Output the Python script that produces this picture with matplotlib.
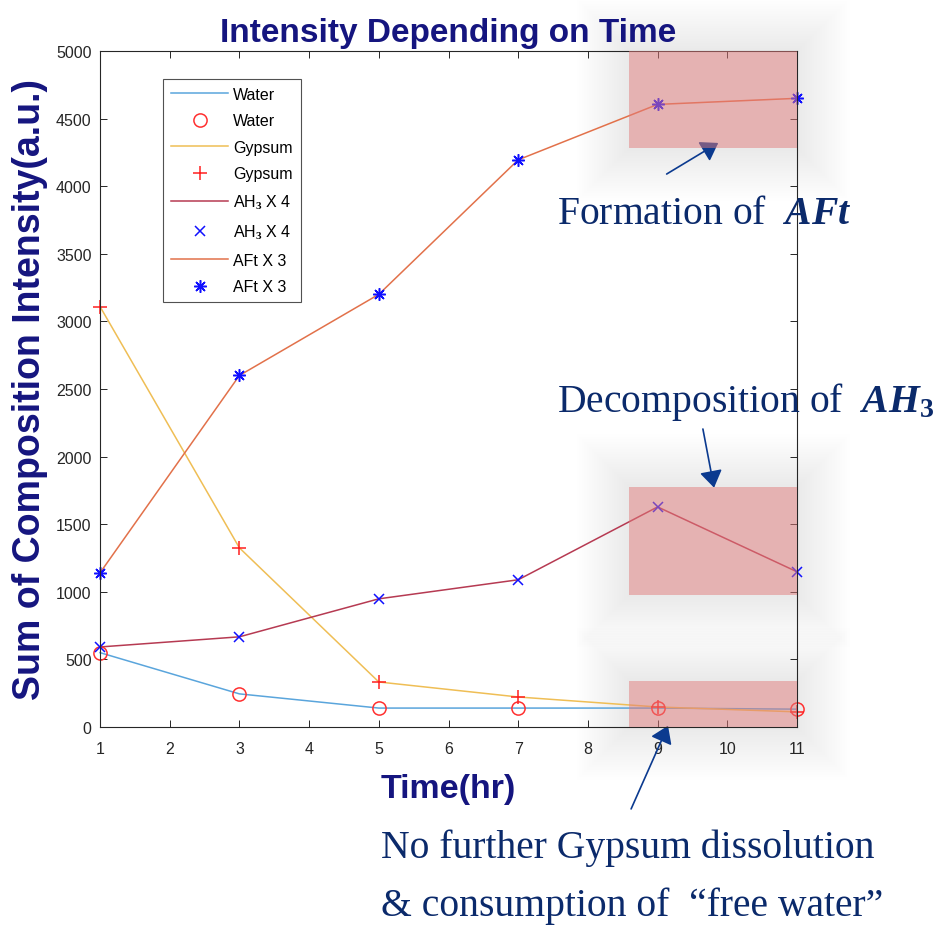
import matplotlib
matplotlib.use("Agg")
import matplotlib.pyplot as plt
from matplotlib.patches import Rectangle, FancyArrowPatch

plt.rcParams['font.family'] = ['Liberation Sans', 'DejaVu Sans']
plt.rcParams['mathtext.fontset'] = 'custom'
plt.rcParams['mathtext.it'] = 'Liberation Serif:italic:bold'
plt.rcParams['mathtext.rm'] = 'Liberation Serif:bold'

time_hr = [1, 3, 5, 7, 9, 11]
water = [550, 245, 140, 140, 140, 132]
gypsum = [3110, 1325, 333, 222, 148, 112]
ah3_x4 = [592, 667, 948, 1089, 1628, 1148]
aft_x3 = [1140, 2600, 3200, 4195, 4605, 4650]

series_labels = ['Water', 'Gypsum', 'AH$_3$ X 4', 'AFt X 3']
line_colors = ['#5aa5dc', '#efbe55', '#b63a52', '#e2714a']
marker_colors = ['#ff3030', '#ff2020', '#1010ff', '#1010ff']
markers = ['o', '+', 'x', (8, 2, 0)]
marker_sizes = [9.5, 10, 6.5, 9]

xticks = list(range(1, 12))
yticks = list(range(0, 5001, 500))

# highlight boxes: (x0, x1, y0, y1) in data units
boxes = [(8.59, 11.0, 4280, 5000), (8.59, 11.0, 978, 1778), (8.59, 11.0, 0, 341)]

W, H = 935, 929
fig = plt.figure(figsize=(W / 100, H / 100), dpi=100)
ax = fig.add_axes([100 / W, 1 - 728 / H, 697 / W, 676 / H])

for vals, lab, lc, mc, mk, ms in zip([water, gypsum, ah3_x4, aft_x3], series_labels,
                                     line_colors, marker_colors, markers, marker_sizes):
    ax.plot(time_hr, vals, color=lc, lw=1.1, label=lab, zorder=2, clip_on=False)
    face = 'none' if mk == 'o' else mc
    ax.plot(time_hr, vals, linestyle='none', marker=mk, markersize=ms, markeredgecolor=mc,
            markerfacecolor=face, markeredgewidth=1.1, label=lab, zorder=2.2, clip_on=False)

ax.set_xlim(1, 11)
ax.set_ylim(0, 5000)
ax.set_xticks(xticks)
ax.set_yticks(yticks)
ax.tick_params(direction='in', top=True, right=True, length=5, width=0.7,
               labelsize=11.5, colors='#262626')
ax.tick_params(axis='x', pad=10)
ax.tick_params(axis='y', pad=6)
for s in ax.spines.values():
    s.set_color('#262626')
    s.set_linewidth(0.8)

px_x = (11 - 1) / 697.0
px_y = 5000 / 676.0
for (x0, x1, y0, y1) in boxes:
    for k in range(1, 22):
        e = k * 2.5
        ax.add_patch(Rectangle((x0 - e * px_x, y0 - e * px_y), (x1 - x0) + 2 * e * px_x,
                               (y1 - y0) + 2 * e * px_y, facecolor='#808080', edgecolor='none',
                               alpha=0.0035, zorder=0.5, clip_on=False))
    ax.add_patch(Rectangle((x0, y0), x1 - x0, y1 - y0, facecolor='#e27c7c', edgecolor='none',
                           alpha=0.5, zorder=3, clip_on=False))

ax.set_title('Intensity Depending on Time', fontsize=24, fontweight='bold', color='#15157f', pad=7)
ax.set_xlabel('Time(hr)', fontsize=24.5, fontweight='bold', color='#15157f', labelpad=12)
ax.set_ylabel('Sum of Composition Intensity(a.u.)', fontsize=27, fontweight='bold',
              color='#15157f', labelpad=6)

leg = ax.legend(loc='upper left', bbox_to_anchor=(163 / W, 1 - 80 / H), bbox_transform=fig.transFigure,
                fontsize=11.5, frameon=True, fancybox=False, edgecolor='#262626', handlelength=3.6,
                handletextpad=0.3, labelspacing=0.72, borderpad=0.5, borderaxespad=0)
leg.get_frame().set_linewidth(0.8)

navy = '#0b2a6b'
arrow_c = '#0b3a8f'
arrows = [((9.13, 4090), (9.87, 4320)), ((9.65, 2204), (9.81, 1770)), ((8.62, -606), (9.15, 10))]
for tail, tip in arrows:
    ax.add_patch(FancyArrowPatch(tail, tip, arrowstyle='-|>,head_length=9,head_width=6',
                                 color=arrow_c, lw=1.2, zorder=2.5, clip_on=False,
                                 shrinkA=0, shrinkB=0, mutation_scale=1.15))

sfont = ['Liberation Serif', 'DejaVu Serif']
fs = 28.5
fig.text(557 / W, 1 - 215 / H, 'Formation of  $AFt$', fontsize=fs, color=navy, family=sfont,
         va='center', ha='left')
fig.text(557 / W, 1 - 402 / H, 'Decomposition of  $AH_3$', fontsize=fs, color=navy, family=sfont,
         va='center', ha='left')
fig.text(381 / W, 1 - 848 / H, 'No further Gypsum dissolution', fontsize=fs, color=navy, family=sfont,
         va='center', ha='left')
fig.text(381 / W, 1 - 906 / H, '& consumption of  \u201cfree water\u201d', fontsize=fs, color=navy,
         family=sfont, va='center', ha='left')

fig.savefig('out.png', dpi=100)
